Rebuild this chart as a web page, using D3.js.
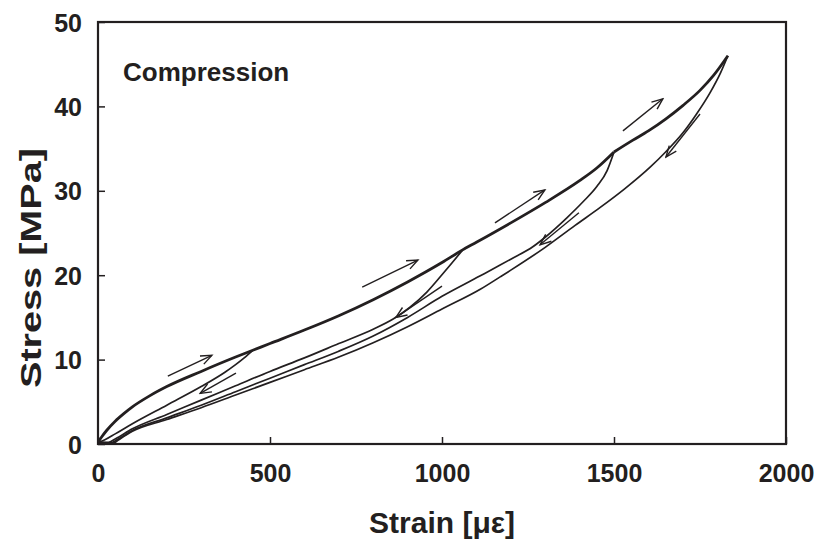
<!DOCTYPE html>
<html>
<head>
<meta charset="utf-8">
<script src="https://cdn.jsdelivr.net/npm/d3@7"></script>
<style>
  html, body { margin: 0; padding: 0; background: #fff; }
  svg text { font-family: "Liberation Sans", Arial, sans-serif; font-weight: bold; fill: #231f20; }
</style>
</head>
<body>
<svg id="chart" width="816" height="540"></svg>
<script>
// ---- data (strain in microstrain, stress in MPa) ----
const xTicks = [0, 500, 1000, 1500, 2000];
const yTicks = [0, 10, 20, 30, 40, 50];

// loading envelope (thick), up to the third peak and from the third to the fourth peak
const loadingA = [[0,0.2],[10,0.8],[25,1.6],[50,2.7],[75,3.6],[100,4.4],[150,5.7],[200,6.8],[300,8.6],[400,10.3],[450,11.1],[500,11.9],[600,13.5],[700,15.2],[800,17.1],[900,19.2],[1000,21.5],[1060,23.0],[1100,23.9],[1200,26.2],[1300,28.6],[1400,31.2],[1450,32.7],[1500,34.6]];
const loadingB = [[1500,34.6],[1555,36.0],[1600,37.1],[1650,38.5],[1700,40.1],[1750,41.9],[1790,43.7],[1831,46.0]];

// unloading branches (thin)
const unload1 = [[450,11.1],[425,10.2],[400,9.4],[369,8.5],[300,6.8],[200,4.6],[100,2.4],[50,1.2],[20,0.5],[0,0.2]];
const unload2 = [[1060,23.0],[1030,21.5],[1003,20.2],[956,18.0],[907,16.2],[858,14.8],[800,13.6],[700,11.9],[600,10.2],[500,8.6],[400,6.9],[300,5.2],[200,3.5],[100,1.8],[50,0.6],[30,0.2],[0,0.2]];
const unload3 = [[1500,34.6],[1480,32.4],[1450,30.5],[1410,28.7],[1363,26.8],[1300,24.5],[1265,23.4],[1200,21.9],[1169,21.2],[1110,19.9],[1000,17.5],[900,15.0],[800,12.8],[700,11.0],[600,9.4],[500,7.8],[400,6.2],[300,4.6],[200,3.1],[100,1.6],[55,0.5],[38,0.15],[0,0.2]];
const unload4 = [[1831,46.0],[1810,44.0],[1779,41.6],[1740,39.1],[1701,36.9],[1650,34.6],[1605,32.8],[1530,30.2],[1459,28.0],[1387,25.9],[1300,23.3],[1200,20.6],[1169,19.8],[1110,18.3],[1000,16.0],[900,13.9],[800,12.0],[700,10.3],[600,8.8],[500,7.3],[400,5.8],[300,4.3],[200,2.9],[100,1.5],[60,0.5],[45,0.1],[0,0.2]];

// direction arrows: [fromStrain, fromStress, toStrain, toStress]
const arrowsUp = [[203,8.05,331,10.5],[768,18.6,930,21.8],[1154,26.2,1299,30.1],[1526,37.1,1642,40.9]];
const arrowsDown = [[401,8.4,297,6.0],[1000,18.7,866,15.0],[1398,27.4,1285,23.6],[1750,39.1,1651,34.0]];

const labelText = "Compression";
const xTitle = "Strain [\u03BC\u03B5]";
const yTitle = "Stress [MPa]";

// ---- drawing ----
const svg = d3.select("#chart");
const m = {left: 98, right: 786, top: 22, bottom: 444};
const x = d3.scaleLinear().domain([0, 2000]).range([m.left, m.right]);
const y = d3.scaleLinear().domain([0, 50]).range([m.bottom, m.top]);
const ink = "#231f20";

svg.append("defs").append("marker")
  .attr("id", "head").attr("viewBox", "-1 -6 14 12")
  .attr("refX", 11).attr("refY", 0)
  .attr("markerWidth", 14).attr("markerHeight", 12)
  .attr("markerUnits", "userSpaceOnUse").attr("orient", "auto")
  .append("path").attr("d", "M0,-4.5 L11,0 L0,4.5")
  .attr("fill", "none").attr("stroke", ink).attr("stroke-width", 1.4);

// axes (ticks inward)
const xAxis = d3.axisBottom(x).tickValues(xTicks).tickSize(-7).tickPadding(20).tickFormat(d3.format("d"));
const yAxis = d3.axisLeft(y).tickValues(yTicks).tickSize(-7).tickPadding(16).tickFormat(d3.format("d"));
const gx = svg.append("g").attr("transform", `translate(0,${m.bottom})`).call(xAxis);
const gy = svg.append("g").attr("transform", `translate(${m.left},0)`).call(yAxis);
[gx, gy].forEach(g => {
  g.select(".domain").remove();
  g.selectAll(".tick line").attr("stroke", ink).attr("stroke-width", 1.5);
  g.selectAll(".tick text").attr("font-size", 25).attr("fill", ink)
    .style("font-family", '"Liberation Sans", Arial, sans-serif').style("font-weight", "bold");
});
gy.selectAll(".tick text").attr("dy", "0.36em");

// frame
svg.append("rect").attr("x", m.left).attr("y", m.top)
  .attr("width", m.right - m.left).attr("height", m.bottom - m.top)
  .attr("fill", "none").attr("stroke", ink).attr("stroke-width", 2.2);

const line = d3.line().x(d => x(d[0])).y(d => y(d[1])).curve(d3.curveMonotoneX);
const sorted = c => c.slice().sort((a, b) => a[0] - b[0]);

[unload1, unload2, unload3, unload4].forEach(c => {
  svg.append("path").datum(sorted(c)).attr("d", line)
    .attr("fill", "none").attr("stroke", ink).attr("stroke-width", 1.7).attr("stroke-linejoin", "round");
});
[loadingA, loadingB].forEach(c => {
  svg.append("path").datum(c).attr("d", line)
    .attr("fill", "none").attr("stroke", ink).attr("stroke-width", 2.8).attr("stroke-linejoin", "round");
});

svg.append("g").selectAll("line").data(arrowsUp.concat(arrowsDown)).join("line")
  .attr("x1", d => x(d[0])).attr("y1", d => y(d[1]))
  .attr("x2", d => x(d[2])).attr("y2", d => y(d[3]))
  .attr("stroke", ink).attr("stroke-width", 1.4).attr("marker-end", "url(#head)");

// texts
svg.append("text").attr("x", 123).attr("y", 81).attr("font-size", 26).text(labelText);
svg.append("text").attr("x", (m.left + m.right) / 2).attr("y", 533)
  .attr("text-anchor", "middle").attr("font-size", 30).text(xTitle);
svg.append("text").attr("transform", `translate(41,268) rotate(-90)`)
  .attr("text-anchor", "middle").attr("font-size", 30)
  .attr("textLength", 240).attr("lengthAdjust", "spacingAndGlyphs").text(yTitle);
</script>
</body>
</html>
